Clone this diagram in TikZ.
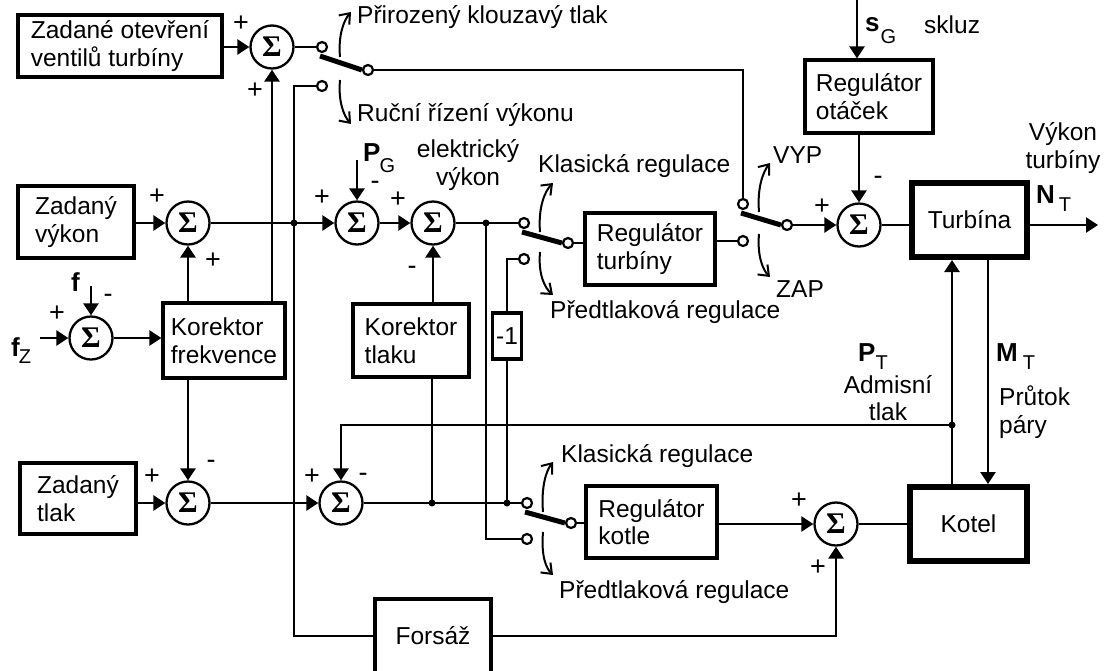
\documentclass[tikz,border=0pt]{standalone}
\usepackage{fontspec}
\setmainfont{Liberation Sans}
\newfontfamily\sigfont{Liberation Serif}
\usetikzlibrary{arrows.meta,calc}
\newcommand{\subtx}[2]{\raisebox{-#1}{\normalfont\fontsize{20}{20}\selectfont #2}}
\begin{document}
\begin{tikzpicture}[x=1pt,y=-1pt,
  every node/.style={font=\fontsize{24.5}{27.5}\selectfont},
  wire/.style={line width=2.6pt},
  arr/.style={wire,-{Triangle[length=12pt,width=15pt]}},
  blk/.style={draw,line width=3.2pt,align=left,inner sep=0pt},
  thk/.style={draw,line width=6pt,inner sep=0pt},
  sum/.style={draw,circle,line width=2.3pt,minimum size=43pt,inner sep=0pt,font=\fontsize{30}{30}\selectfont\sigfont\bfseries},
  cont/.style={draw,circle,line width=2.2pt,fill=white,minimum size=10pt,inner sep=0pt},
  jdot/.style={circle,fill,minimum size=7pt,inner sep=0pt},
  blade/.style={line width=5pt},
  turn/.style={line width=2pt,-{Straight Barb[length=9pt,width=14pt]}},
  sgn/.style={inner sep=0pt,font=\fontsize{27}{27}\selectfont},
  lbl/.style={inner sep=0pt,anchor=west},
  bvar/.style={inner sep=0pt,anchor=base west,font=\fontsize{26}{26}\selectfont\bfseries},
]
\useasboundingbox (0,0) rectangle (1113,670);

% ---------- blocks ----------
\node[blk,minimum width=204pt,minimum height=62pt] (zo) at (120,46) {Zadané otevření\\ventilů turbíny};
\node[blk,minimum width=116pt,minimum height=72pt] (zv) at (76,222) {Zadaný\\výkon};
\node[blk,minimum width=122pt,minimum height=75pt] (kf) at (224,340.5) {Korektor\\frekvence};
\node[blk,minimum width=116pt,minimum height=73pt] (kt) at (411,340.5) {Korektor\\tlaku};
\node[blk,minimum width=29pt,minimum height=46pt] (m1) at (507,336) {-1};
\node[blk,minimum width=116pt,minimum height=71pt] (zt) at (78,498.5) {Zadaný\\tlak};
\node[blk,minimum width=130pt,minimum height=72pt] (rt) at (650,249) {Regulátor\\turbíny};
\node[blk,minimum width=131pt,minimum height=72pt] (rk) at (651.5,522) {Regulátor\\kotle};
\node[blk,minimum width=128pt,minimum height=73pt] (ro) at (869,96.5) {Regulátor\\otáček};
\node[blk,minimum width=116pt,minimum height=74pt] (fo) at (433,636) {Forsáž};
\node[thk,minimum width=115pt,minimum height=74pt] (tu) at (969.5,220) {Turbína};
\node[thk,minimum width=117pt,minimum height=74pt] (ko) at (968.5,524) {Kotel};

% ---------- summing junctions ----------
\node[sum] (s1) at (272,47) {Σ};
\node[sum] (s2) at (188,223) {Σ};
\node[sum] (sf) at (91,338) {Σ};
\node[sum] (s3) at (357,223) {Σ};
\node[sum] (s4) at (433,223) {Σ};
\node[sum] (s5) at (859,225) {Σ};
\node[sum] (s7) at (188,503) {Σ};
\node[sum] (s8) at (341,503) {Σ};
\node[sum] (sk) at (836,524) {Σ};

% ---------- junction dots ----------
\node[jdot] (j1) at (294,223) {};
\node[jdot] (j2) at (486,223) {};
\node[jdot] (j3) at (432,503) {};
\node[jdot] (j4) at (507,503) {};
\node[jdot] (jp) at (952,425) {};

% ---------- free ends ----------
\coordinate (pg) at (357,160);
\coordinate (fin) at (91,286);
\coordinate (fzin) at (40,338);
\coordinate (sg) at (857,0);
\coordinate (nout) at (1098,225);
\coordinate (mt) at (988,300);

% ---------- wires ----------
\draw[arr] (zo.east |- s1) -- (s1.west);
\draw[arr] (kf.north -| s1) -- (s1.south);
\draw[wire] (s1.east) -- (322,47);
\draw[wire] (368,70) -| (743,204);
\draw[wire] (322,86) -| (j1.center) |- (fo.west);
\draw[arr] (zv.east |- s2) -- (s2.west);
\draw[arr] (kf.north -| s2) -- (s2.south);
\draw[arr] (s2.east) -- (s3.west);
\draw[arr] (pg) -- (s3.north);
\draw[arr] (s3.east) -- (s4.west);
\draw[arr] (kt.north -| s4) -- (s4.south);
\draw[wire] (s4.east) -- (524,223);
\draw[wire] (j2.center) |- (527,539);
\draw[wire] (524,259) -| (m1.north);
\draw[wire] (m1.south) -- (j4.center);
\draw[wire] (568,243) -- (568,243 -| rt.west);
\draw[wire] (rt.east |- 0,241) -- (743,241);
\draw[arr] (787,225) -- (s5.west);
\draw[arr] (sg) -- (sg |- ro.north);
\draw[arr] (ro.south -| s5) -- (s5.north);
\draw[wire] (s5.east) -- (s5.east -| tu.west);
\draw[arr] (tu.east |- s5) -- (nout);
\draw[arr] (ko.north -| jp) -- (tu.south -| jp);
\draw[arr] (tu.south -| mt) -- (ko.north -| mt);
\draw[arr] (jp.center) -| (s8.north);
\draw[arr] (fzin) -- (sf.west);
\draw[arr] (fin) -- (sf.north);
\draw[arr] (sf.east) -- (kf.west |- sf);
\draw[arr] (kf.south -| s7) -- (s7.north);
\draw[arr] (zt.east |- s7) -- (s7.west);
\draw[arr] (s7.east) -- (s8.west);
\draw[wire] (s8.east) -- (527,503);
\draw[wire] (kt.south -| j3) -- (j3.center);
\draw[wire] (571,523) -- (571,523 -| rk.west);
\draw[arr] (rk.east |- sk) -- (sk.west);
\draw[wire] (sk.east) -- (ko.west |- sk);
\draw[arr] (fo.east) -| (sk.south);

% ---------- switch contacts ----------
\node[cont] (c1u) at (322,47) {};
\node[cont] (c1d) at (322,86) {};
\node[cont] (c1c) at (368,70) {};
\node[cont] (c3u) at (524,223) {};
\node[cont] (c3d) at (524,259) {};
\node[cont] (c3c) at (568,243) {};
\node[cont] (c2u) at (743,204) {};
\node[cont] (c2d) at (743,241) {};
\node[cont] (c2c) at (787,225) {};
\node[cont] (c4u) at (527,503) {};
\node[cont] (c4d) at (527,539) {};
\node[cont] (c4c) at (571,523) {};

% ---------- switch blades ----------
\draw[blade] ($(c1u.center)+(-2,9)$) -- (c1c.west);
\draw[blade] ($(c3u.center)+(-2,9)$) -- (c3c.west);
\draw[blade] ($(c2u.center)+(-2,9)$) -- (c2c.west);
\draw[blade] ($(c4u.center)+(-2,9)$) -- (c4c.west);

% ---------- curved arrows ----------
\draw[turn] (340,57) .. controls (338,35) and (344,20) .. (351,12);
\draw[turn] (340,80) .. controls (338,102) and (344,116) .. (351,124);
\draw[turn] (540,232) .. controls (538,207) and (545,191) .. (553,183);
\draw[turn] (540,252) .. controls (538,275) and (545,288) .. (553,295);
\draw[turn] (759,212) .. controls (757,188) and (763,172) .. (770,163);
\draw[turn] (759,234) .. controls (757,256) and (763,270) .. (770,277);
\draw[turn] (543,512) .. controls (541,487) and (546,471) .. (553,462);
\draw[turn] (543,532) .. controls (541,556) and (546,568) .. (553,575);

% ---------- texts ----------
\node[lbl] at (357,17) {Přirozený klouzavý tlak};
\node[lbl] at (357,115) {Ruční řízení výkonu};
\node[lbl] at (538,166) {Klasická regulace};
\node[lbl] at (550,312) {Předtlaková regulace};
\node[lbl] at (773,155) {VYP};
\node[lbl] at (776,289) {ZAP};
\node[lbl] at (561,456) {Klasická regulace};
\node[lbl] at (559,592) {Předtlaková regulace};
\node[lbl] at (924,25) {skluz};
\node[align=center,inner sep=0pt] at (468,165) {elektrický\\výkon};
\node[align=center,inner sep=0pt] at (1063,148) {Výkon\\turbíny};
\node[align=center,inner sep=0pt] at (888,398) {Admisní\\tlak};
\node[align=left,inner sep=0pt,anchor=west] at (999,412) {Průtok\\páry};

% variable names
\node[bvar] at (363,161) {P\kern-1pt\subtx{11pt}{G}};
\node[bvar] at (865,31) {s\kern1pt\subtx{12pt}{G}};
\node[bvar] at (1036,203) {N\kern4pt\subtx{8pt}{T}};
\node[bvar] at (858,361) {P\kern0pt\subtx{8pt}{T}};
\node[bvar] at (996,361) {M\kern5pt\subtx{8pt}{T}};
\node[bvar] at (71,291) {f};
\node[bvar] at (11,356) {f\kern-1pt\subtx{7pt}{Z}};

% signs
\node[sgn] at (241,24) {+};
\node[sgn] at (255,91) {+};
\node[sgn] at (157,197) {+};
\node[sgn] at (213,261) {+};
\node[sgn] at (57,314) {+};
\node[sgn] at (108,298) {-};
\node[sgn] at (322,198) {+};
\node[sgn] at (375,185) {-};
\node[sgn] at (398,200) {+};
\node[sgn] at (412,270) {-};
\node[sgn] at (822,207) {+};
\node[sgn] at (878,180) {-};
\node[sgn] at (152,477) {+};
\node[sgn] at (211,464) {-};
\node[sgn] at (312,477) {+};
\node[sgn] at (363,477) {-};
\node[sgn] at (799,501) {+};
\node[sgn] at (818,568) {+};
\end{tikzpicture}
\end{document}
